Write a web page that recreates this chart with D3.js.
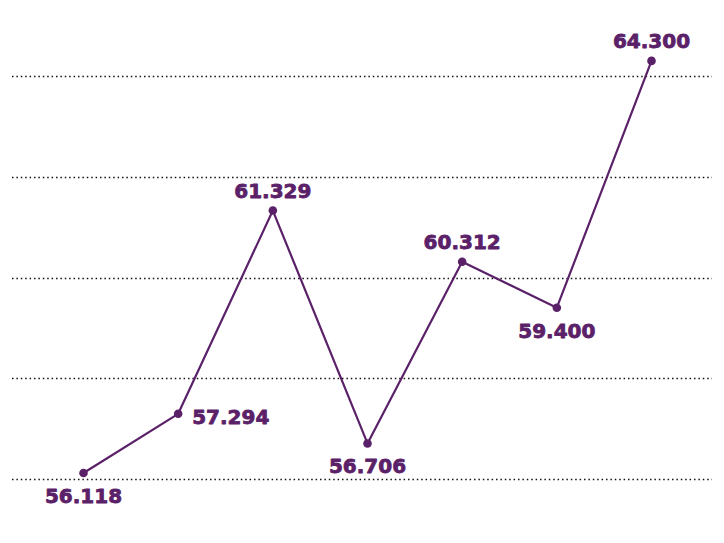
<!DOCTYPE html>
<html>
<head>
<meta charset="utf-8">
<script src="https://cdn.jsdelivr.net/npm/d3@7"></script>
<style>
  html, body { margin: 0; padding: 0; background: #fff; }
  svg { display: block; }
</style>
</head>
<body>
<div id="chart"></div>
<script>
// data
const categories = ["P1", "P2", "P3", "P4", "P5", "P6", "P7"];
const values = [56.118, 57.294, 61.329, 56.706, 60.312, 59.400, 64.300];
const labelSide = ["below", "right", "above", "below", "above", "below", "above"];
const gridValues = [56, 58, 60, 62, 64];

const width = 724, height = 543;
const color = "#5b2168";

const svg = d3.select("#chart")
  .append("svg")
  .attr("width", width)
  .attr("height", height);

const x = d3.scalePoint()
  .domain(categories)
  .range([83.5, 651.5]);

const y = d3.scaleLinear()
  .domain([56, 64])
  .range([479, 76]);

// dotted gridlines
svg.append("g")
  .selectAll("line")
  .data(gridValues)
  .join("line")
  .attr("x1", 12)
  .attr("x2", 712)
  .attr("y1", d => Math.round(y(d)) + 0.5)
  .attr("y2", d => Math.round(y(d)) + 0.5)
  .attr("stroke", "#111")
  .attr("stroke-width", 1.5)
  .attr("stroke-dasharray", "1.5,2.9");

const line = d3.line()
  .x((d, i) => x(categories[i]))
  .y(d => y(d));

svg.append("path")
  .datum(values)
  .attr("d", line)
  .attr("fill", "none")
  .attr("stroke", color)
  .attr("stroke-width", 2.2)
  .attr("stroke-linejoin", "round");

svg.append("g")
  .selectAll("circle")
  .data(values)
  .join("circle")
  .attr("cx", (d, i) => x(categories[i]))
  .attr("cy", d => y(d))
  .attr("r", 4.3)
  .attr("fill", color);

// value labels, a thin stroke makes the glyphs heavier
svg.append("g")
  .selectAll("text")
  .data(values)
  .join("text")
  .attr("x", (d, i) => x(categories[i]) + (labelSide[i] === "right" ? 14 : 0))
  .attr("y", (d, i) => y(d) + (labelSide[i] === "above" ? -13 : labelSide[i] === "below" ? 30 : 10))
  .attr("text-anchor", (d, i) => labelSide[i] === "right" ? "start" : "middle")
  .style("font-family", "'DejaVu Sans', sans-serif")
  .style("font-weight", "bold")
  .style("font-size", "20px")
  .attr("fill", color)
  .attr("stroke", color)
  .attr("stroke-width", 0.8)
  .attr("stroke-linejoin", "round")
  .text(d => d.toFixed(3));
</script>
</body>
</html>
